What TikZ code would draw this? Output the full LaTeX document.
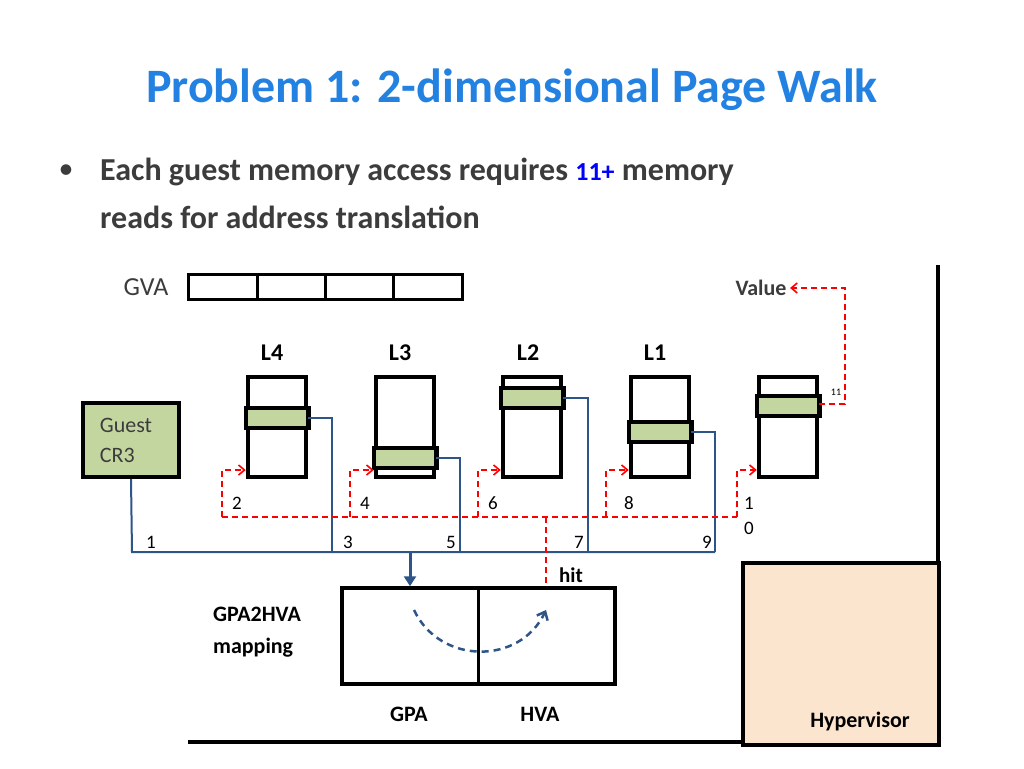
\documentclass[tikz,border=0pt]{standalone}
\usepackage{fontspec}
\setmainfont{Carlito}
\usetikzlibrary{arrows.meta}
\definecolor{titleblue}{RGB}{35,130,225}
\definecolor{darktext}{RGB}{60,60,60}
\definecolor{bandgreen}{RGB}{196,214,160}
\definecolor{linkblue}{RGB}{45,85,135}
\definecolor{peach}{RGB}{252,229,207}
\tikzstyle{page} = [rectangle, draw=black, line width=4.5pt, minimum width=58pt, minimum height=100pt, inner sep=0pt]
\tikzstyle{band} = [draw=black, line width=4.5pt, fill=bandgreen]
\tikzstyle{level} = [font=\fontsize{24}{28}\selectfont\bfseries, text=black]
\tikzstyle{stepnum} = [font=\fontsize{19}{21}\selectfont, text=black, anchor=west, inner sep=1pt]
\tikzstyle{walk} = [linkblue, line width=2pt]
\tikzstyle{probe} = [red, line width=1.6pt, dash pattern=on 6pt off 4pt]
\tikzstyle{heavy} = [black, line width=4.5pt]

\begin{document}
\begin{tikzpicture}[x=1pt, y=-1pt]
        \useasboundingbox (0,0) rectangle (1024,768);
        \node (title) at (512,90) [text=titleblue, font=\fontsize{48}{54}\selectfont\bfseries] {Problem 1: 2-dimensional Page Walk};
        \node (dot) at (66,172) [darktext, font=\fontsize{30}{34}\selectfont] {\textbullet};
        \node (line1) at (100,172) [anchor=west, inner sep=0pt, text=darktext, font=\fontsize{32}{36}\selectfont\bfseries] {Each guest memory access requires {\color{blue}\fontsize{26}{30}\selectfont 11+} memory};
        \node (line2) at (100,217) [anchor=west, inner sep=0pt, text=darktext, font=\fontsize{32}{36}\selectfont\bfseries] {reads for address translation};
        % guest virtual address
        \node (gva) at (146,287) [text=darktext, font=\fontsize{26}{30}\selectfont] {GVA};
        \draw [heavy, line width=3pt] (188,274) rectangle (462,299);
        \foreach \x in {257,325,393} \draw [heavy, line width=3pt] (\x,274) -- (\x,299);
        \node (value) at (761,288) [font=\fontsize{22}{26}\selectfont\bfseries, text=darktext] {Value};
        % page table levels
        \node at (272,353) [level] {L4};
        \node at (400,353) [level] {L3};
        \node at (528,353) [level] {L2};
        \node at (655,353) [level] {L1};
        \node (l4) at (277,427) [page] {};
        \node (l3) at (405,427) [page] {};
        \node (l2) at (532,427) [page] {};
        \node (l1) at (660,427) [page] {};
        \node (data) at (788,427) [page] {};
        \draw [band] (l4.west |- 0,408) rectangle (l4.east |- 0,428);
        \draw [band] (l3.west |- 0,448) rectangle (l3.east |- 0,468);
        \draw [band] (l2.west |- 0,388) rectangle (l2.east |- 0,408);
        \draw [band] (l1.west |- 0,422) rectangle (l1.east |- 0,442);
        \draw [band] (data.west |- 0,396) rectangle (data.east |- 0,416);
        \node (cr3) at (131,440) [rectangle, draw=black, line width=4pt, fill=bandgreen, minimum width=96pt, minimum height=74pt] {};
        \node at (cr3) [text=darktext, font=\fontsize{22}{30}\selectfont, align=left, anchor=center, xshift=-5pt] {Guest\\CR3};
        % nested walk
        \coordinate (bus) at (132,552);
        \draw [walk] (cr3.south) -- (bus) -- (715,552);
        \draw [walk] (l4.east |- 0,418) -| (332,552);
        \draw [walk] (l3.east |- 0,458) -| (460,552);
        \draw [walk] (l2.east |- 0,398) -| (588,552);
        \draw [walk] (l1.east |- 0,432) -| (715,552);
        \node (map) at (478.5,636) [rectangle, draw=black, line width=3.5pt, minimum width=273pt, minimum height=96pt] {};
        \draw [heavy, line width=3.5pt] (map.north) -- (map.south);
        \draw [walk, line width=3pt, -{Triangle[length=10pt,width=12pt]}] (410,552) -- (410,0 |- map.north);
        % guest reads
        \draw [probe] (222,517) -- (737,517);
        \foreach \x/\p in {222/l4,350/l3,478/l2,606/l1,737/data}
          \draw [probe, -{Straight Barb[length=6pt,width=10pt]}] (\x,517) |- (\p.west |- 0,470);
        \draw [probe, -{Straight Barb[length=6pt,width=10pt]}] (data.east |- 0,404) -| (845,288) -- (value.east);
        \draw [probe] (546,517) -- (546,0 |- map.north);
        \node at (571,575) [font=\fontsize{21}{24}\selectfont\bfseries] {hit};
        \draw [linkblue, line width=2.5pt, dash pattern=on 7pt off 5pt, -{Straight Barb[length=7pt,width=12pt]}] (414,610) .. controls (440,665) and (520,665) .. (546,610);
        % step numbers
        \foreach \x/\y/\lbl in {231/503/2,359/503/4,487/503/6,623/503/8,145/542/1,342/542/3,445/542/5,573/542/7,701/542/9,743/503/1,743/528/0}
          \node at (\x,\y) [stepnum] {\lbl};
        \node at (836,392) [font=\fontsize{10}{12}\selectfont] {11};
        \node at (257,632) [font=\fontsize{22}{32}\selectfont\bfseries, align=left] {GPA2HVA\\mapping};
        \node at (409,714) [level, font=\fontsize{22}{26}\selectfont\bfseries] {GPA};
        \node at (540,714) [level, font=\fontsize{22}{26}\selectfont\bfseries] {HVA};
        % hypervisor
        \draw [heavy] (188,742) -- (742,742);
        \draw [heavy] (938,265) -- (938,562);
        \node (hyp) at (841,654) [rectangle, draw=black, line width=4pt, fill=peach, minimum width=196pt, minimum height=182pt] {};
        \node at (860,722) [font=\fontsize{22}{26}\selectfont\bfseries] {Hypervisor};
\end{tikzpicture}
\end{document}
